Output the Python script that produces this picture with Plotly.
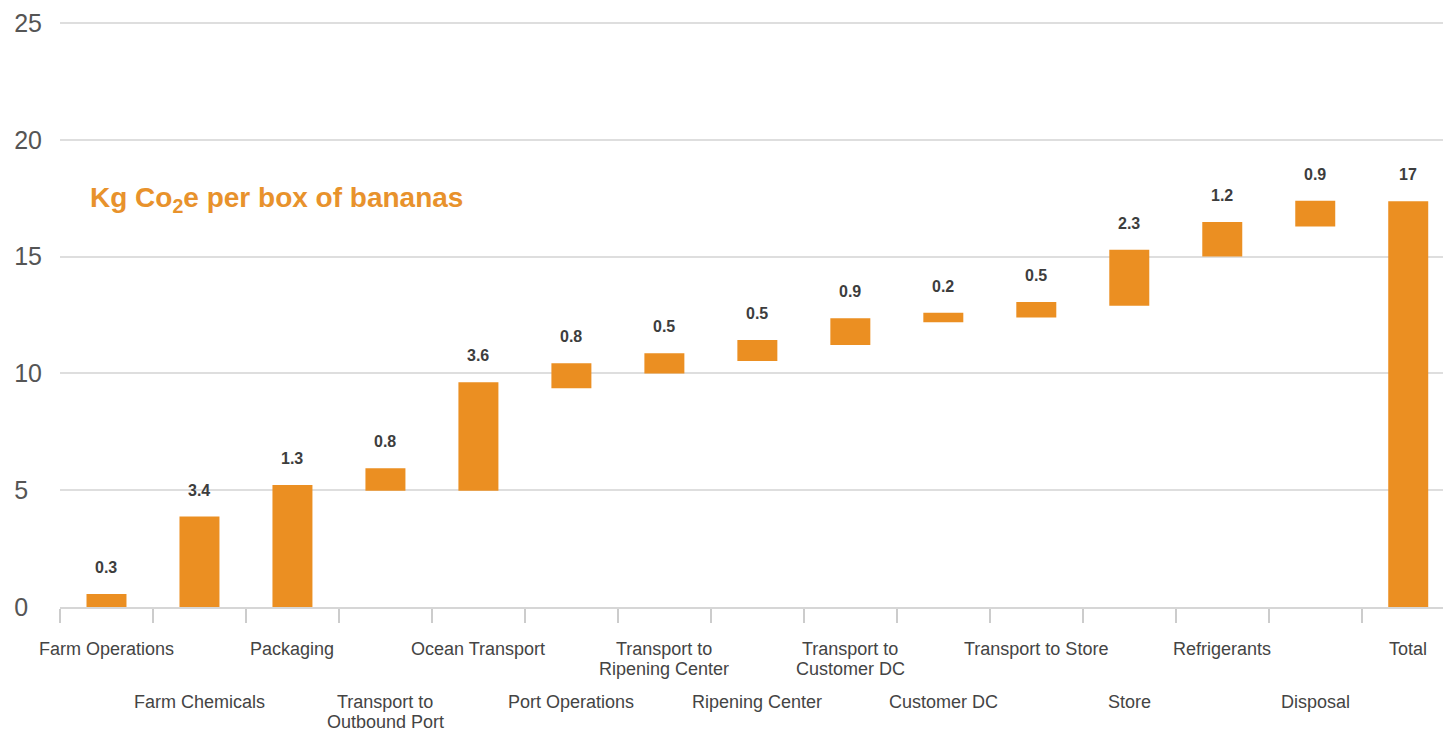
import plotly.graph_objects as go

categories = [
    "Farm Operations", "Farm Chemicals", "Packaging", "Transport to<br>Outbound Port",
    "Ocean Transport", "Port Operations", "Transport to<br>Ripening Center",
    "Ripening Center", "Transport to<br>Customer DC", "Customer DC",
    "Transport to Store", "Store", "Refrigerants", "Disposal", "Total",
]
value_labels = ["0.3", "3.4", "1.3", "0.8", "3.6", "0.8", "0.5", "0.5", "0.9",
                "0.2", "0.5", "2.3", "1.2", "0.9", "17"]
bar_bottoms = [0, 0, 0, 4.98, 4.98, 9.36, 10.0, 10.53, 11.22, 12.19, 12.39,
               12.9, 15.0, 16.29, 0]
bar_tops = [0.56, 3.87, 5.22, 5.94, 9.62, 10.43, 10.86, 11.43, 12.36, 12.6,
            13.06, 15.29, 16.48, 17.39, 17.37]
y_ticks = [0, 5, 10, 15, 20, 25]
y_tick_text = ["0\u2007", "5\u2007", "10", "15", "20", "25"]
title_text = "Kg Co<sub>2</sub>e per box of bananas"

ORANGE = "#EB8F22"
FONT = "Liberation Sans, Arial, sans-serif"

fig = go.Figure()
fig.add_trace(go.Bar(
    x=list(range(len(categories))),
    y=[t - b for t, b in zip(bar_tops, bar_bottoms)],
    base=bar_bottoms,
    width=0.43,
    marker=dict(color=ORANGE, line=dict(width=0)),
    hoverinfo="skip",
))

annotations = []
for i, (lab, top) in enumerate(zip(value_labels, bar_tops)):
    annotations.append(dict(
        x=i, y=top, xref="x", yref="y", text="<b>%s</b>" % lab,
        showarrow=False, yanchor="bottom", xanchor="center", yshift=16,
        font=dict(family=FONT, size=16, color="#3d3d3d"),
    ))
for i, cat in enumerate(categories):
    base_shift = -30 if i % 2 == 0 else -83
    for j, line in enumerate(cat.split("<br>")):
        annotations.append(dict(
            x=i, y=0, xref="x", yref="paper", text=line,
            showarrow=False, yanchor="top", xanchor="center",
            yshift=base_shift - 20 * j,
            font=dict(family=FONT, size=18, color="#444444"),
        ))
annotations.append(dict(
    x=0.02, y=0.694, xref="paper", yref="paper", text="<b>%s</b>" % title_text,
    showarrow=False, xanchor="left", yanchor="middle",
    font=dict(family=FONT, size=28, color="#E8922C"),
))

fig.update_layout(
    width=1443, height=723,
    margin=dict(l=52, r=0, t=12, b=124),
    paper_bgcolor="white", plot_bgcolor="white",
    showlegend=False,
    annotations=annotations,
    xaxis=dict(
        range=[-0.5, 14.46],
        tickmode="array",
        tickvals=[i - 0.5 for i in range(len(categories))],
        showticklabels=False,
        ticks="outside", ticklen=14, tickcolor="#cccccc", tickwidth=1.5,
        showgrid=False, zeroline=False,
        showline=True, linecolor="#d6d6d6", linewidth=1.5,
        fixedrange=True,
    ),
    yaxis=dict(
        range=[0, 25.13],
        tickmode="array", tickvals=y_ticks, ticktext=y_tick_text,
        showgrid=True, gridcolor="#dedede", gridwidth=1.5,
        zeroline=False, ticks="", ticklabelstandoff=17,
        tickfont=dict(family=FONT, size=25, color="#555555"),
        fixedrange=True,
    ),
)

fig.write_html("out.html")
